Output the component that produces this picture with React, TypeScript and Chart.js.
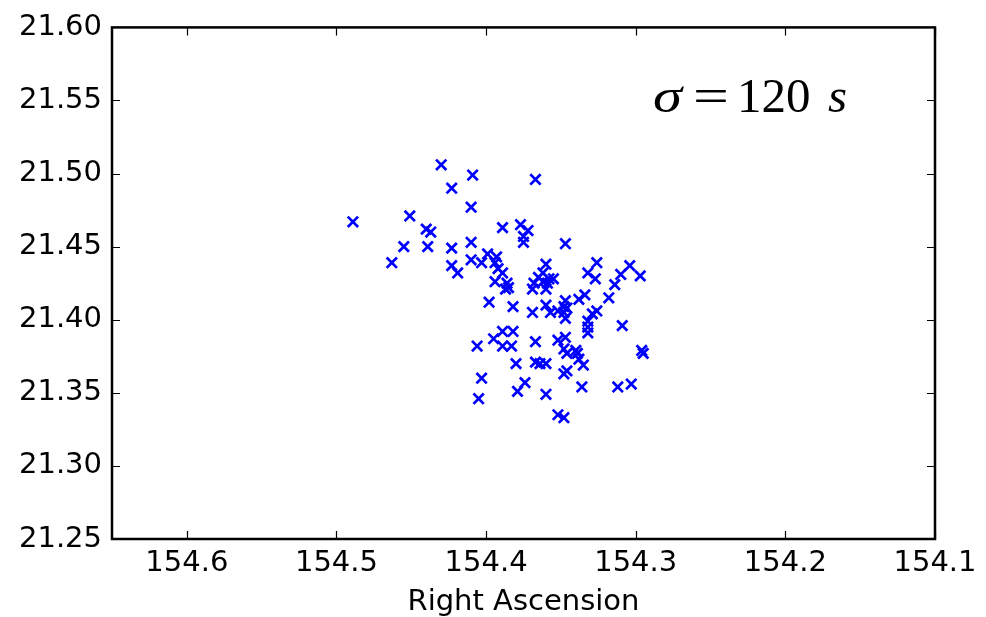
import { useEffect, useRef } from "react";
import { Chart, registerables } from "chart.js";

Chart.register(...registerables);

// Right Ascension values (x) of each point
const raValues = [
  154.489, 154.430, 154.409, 154.423, 154.410, 154.451, 154.367, 154.440, 154.437, 154.455,
  154.439, 154.423, 154.410, 154.463, 154.423, 154.419, 154.410, 154.403, 154.399, 154.393,
  154.394, 154.392, 154.389, 154.394, 154.386, 154.387, 154.385, 154.389, 154.377, 154.372,
  154.375, 154.375, 154.347, 154.360, 154.362, 154.358, 154.355, 154.362, 154.359, 154.365,
  154.368, 154.369, 154.360, 154.326, 154.332, 154.327, 154.304, 154.310, 154.297, 154.314,
  154.318, 154.338, 154.334, 154.347, 154.348, 154.346, 154.347, 154.352, 154.348, 154.360,
  154.357, 154.369, 154.398, 154.382, 154.326, 154.329, 154.332, 154.332, 154.332, 154.309,
  154.389, 154.382, 154.395, 154.406, 154.389, 154.383, 154.367, 154.352, 154.347, 154.348,
  154.346, 154.340, 154.339, 154.338, 154.335, 154.296, 154.295, 154.380, 154.367, 154.364,
  154.360, 154.348, 154.346, 154.403, 154.374, 154.379, 154.360, 154.336, 154.312, 154.303,
  154.405, 154.352, 154.348,
];

// Declination values (y) of each point
const decValues = [
  21.467, 21.506, 21.499, 21.490, 21.477, 21.471, 21.496, 21.462, 21.460, 21.450,
  21.450, 21.449, 21.453, 21.439, 21.437, 21.432, 21.441, 21.439, 21.445, 21.443,
  21.439, 21.435, 21.432, 21.426, 21.425, 21.421, 21.422, 21.463, 21.465, 21.461,
  21.457, 21.453, 21.452, 21.438, 21.432, 21.428, 21.428, 21.426, 21.425, 21.429,
  21.425, 21.421, 21.421, 21.439, 21.432, 21.428, 21.437, 21.431, 21.430, 21.424,
  21.415, 21.414, 21.417, 21.413, 21.409, 21.408, 21.401, 21.406, 21.405, 21.410,
  21.405, 21.405, 21.412, 21.409, 21.406, 21.404, 21.399, 21.395, 21.391, 21.396,
  21.392, 21.392, 21.387, 21.382, 21.382, 21.382, 21.385, 21.386, 21.388, 21.380,
  21.377, 21.379, 21.377, 21.373, 21.369, 21.379, 21.377, 21.370, 21.371, 21.370,
  21.370, 21.363, 21.365, 21.360, 21.357, 21.351, 21.349, 21.354, 21.354, 21.356,
  21.346, 21.335, 21.333,
];

const xTickValues = [154.6, 154.5, 154.4, 154.3, 154.2, 154.1];
const yTickValues = [21.25, 21.3, 21.35, 21.4, 21.45, 21.5, 21.55, 21.6];

const X_MIN = 154.1;
const X_MAX = 154.65;
const Y_MIN = 21.25;
const Y_MAX = 21.6;

const xTitle = "Right Ascension";

const framePlugin = {
  id: "frameTicks",
  afterDraw(chart: any) {
    const { ctx, chartArea } = chart;
    const { left, right, top, bottom } = chartArea;
    const xs = chart.scales.x;
    const ys = chart.scales.y;
    ctx.save();
    // inward tick marks on all four sides
    ctx.strokeStyle = "#000";
    ctx.lineWidth = 1.2;
    const len = 8;
    ctx.beginPath();
    xs.ticks.forEach((t: any) => {
      const px = Math.round(xs.getPixelForValue(t.value)) + 0.5;
      ctx.moveTo(px, bottom);
      ctx.lineTo(px, bottom - len);
      ctx.moveTo(px, top);
      ctx.lineTo(px, top + len);
    });
    ys.ticks.forEach((t: any) => {
      const py = Math.round(ys.getPixelForValue(t.value)) + 0.5;
      ctx.moveTo(left, py);
      ctx.lineTo(left + len, py);
      ctx.moveTo(right, py);
      ctx.lineTo(right - len, py);
    });
    ctx.stroke();
    // frame
    ctx.lineWidth = 2.5;
    ctx.strokeRect(left, top, right - left, bottom - top);

    // annotation  sigma = 120 s
    const baseY = top + 85;
    const x0 = right - 282;
    ctx.fillStyle = "#000";
    ctx.textBaseline = "alphabetic";
    ctx.textAlign = "left";
    ctx.font = "italic 49px 'Liberation Serif'";
    ctx.save();
    ctx.translate(x0, baseY);
    ctx.scale(1.2, 1);
    ctx.fillText("\u03C3", 0, 0);
    ctx.restore();
    ctx.font = "49px 'Liberation Serif'";
    ctx.save();
    ctx.translate(x0 + 40, baseY);
    ctx.scale(1.3, 1);
    ctx.fillText("=", 0, 0);
    ctx.restore();
    ctx.fillText("120", x0 + 84, baseY);
    ctx.font = "italic 49px 'Liberation Serif'";
    ctx.fillText("s", x0 + 175, baseY);
    ctx.restore();
  },
};

export default function App() {
  const canvasRef = useRef<HTMLCanvasElement | null>(null);

  useEffect(() => {
    const canvas = canvasRef.current;
    if (!canvas) return;
    const points = raValues.map((ra, i) => ({ x: ra, y: decValues[i] }));
    const tickFont = { family: "'DejaVu Sans'", size: 29 };
    const chart = new Chart(canvas, {
      type: "scatter",
      data: {
        datasets: [
          {
            data: points,
            pointStyle: "crossRot",
            pointRadius: 7.3,
            pointHoverRadius: 7.3,
            borderColor: "#0000ff",
            backgroundColor: "#0000ff",
            pointBorderWidth: 2.7,
          },
        ],
      },
      options: {
        animation: false,
        responsive: false,
        maintainAspectRatio: false,
        events: [],
        layout: { padding: { top: 25, right: 51, left: 0, bottom: 0 } },
        plugins: {
          legend: { display: false },
          tooltip: { enabled: false },
          title: { display: false },
        },
        scales: {
          x: {
            type: "linear",
            reverse: true,
            min: X_MIN,
            max: X_MAX,
            grid: { display: false, drawTicks: false },
            border: { display: false },
            afterBuildTicks: (s: any) => {
              s.ticks = xTickValues.map((v) => ({ value: v }));
            },
            afterFit: (s: any) => {
              s.height = 78;
            },
            ticks: {
              font: tickFont,
              color: "#000",
              padding: 7,
              maxRotation: 0,
              autoSkip: false,
              callback: (v: any) => Number(v).toFixed(1),
            },
            title: {
              display: true,
              text: xTitle,
              color: "#000",
              font: { family: "'DejaVu Sans'", size: 29, lineHeight: 1.0 },
              padding: { top: 0, bottom: 0 },
            },
          },
          y: {
            type: "linear",
            min: Y_MIN,
            max: Y_MAX,
            grid: { display: false, drawTicks: false },
            border: { display: false },
            afterBuildTicks: (s: any) => {
              s.ticks = yTickValues.map((v) => ({ value: v }));
            },
            afterFit: (s: any) => {
              s.width = 112;
            },
            ticks: {
              font: tickFont,
              color: "#000",
              padding: 10,
              autoSkip: false,
              callback: (v: any) => Number(v).toFixed(2),
            },
          },
        },
      },
      plugins: [framePlugin],
    });
    return () => chart.destroy();
  }, []);

  return (
    <div style={{ position: "fixed", left: 0, top: 0, width: 986, height: 617, background: "#fff" }}>
      <canvas ref={canvasRef} width={986} height={617} style={{ width: 986, height: 617 }} />
    </div>
  );
}
